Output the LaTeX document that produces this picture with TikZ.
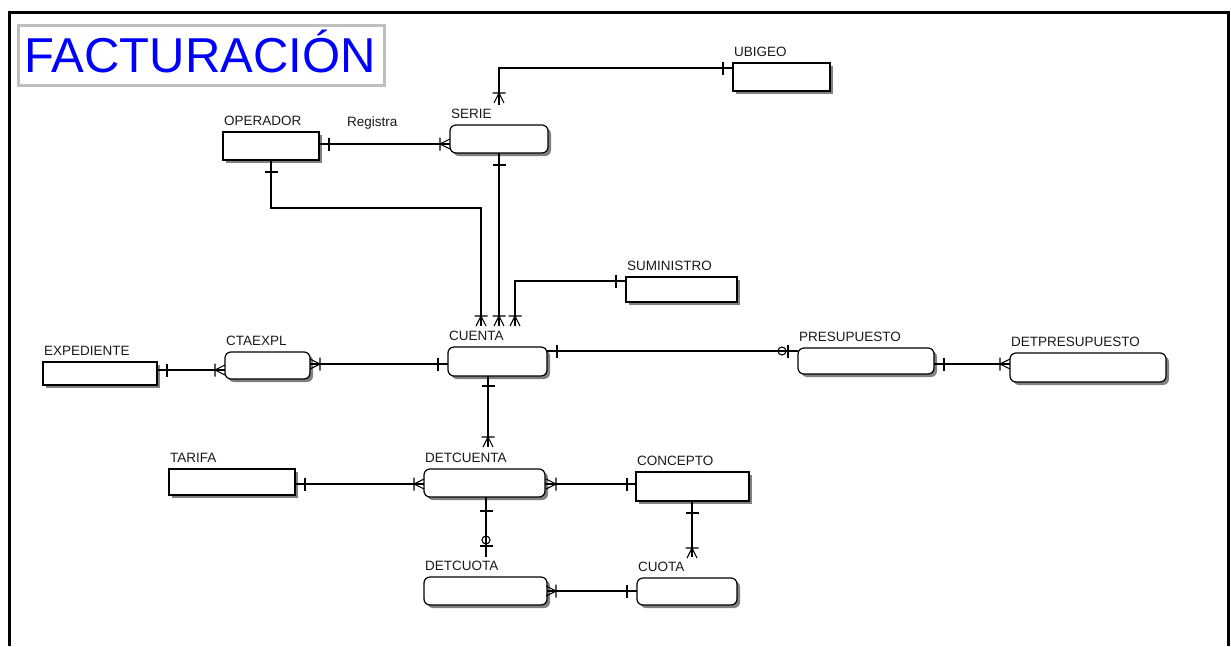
\documentclass[tikz,border=0pt]{standalone}
\usepackage{fontspec}
\setmainfont{Liberation Sans}
\usetikzlibrary{shadows}
\begin{document}
\begin{tikzpicture}[x=1pt,y=-1pt,
  ent/.style={draw=black, line width=1.2pt, fill=white, inner sep=0pt, outer sep=0pt,
    anchor=north west,
    drop shadow={shadow xshift=3pt, shadow yshift=-3pt, fill=black!50, opacity=1}},
  sz/.style 2 args={minimum width=#1pt, minimum height=#2pt},
  entbox/.style={ent, rectangle},
  entround/.style={ent, rounded corners=6pt},
  lbl/.style={font=\fontsize{13.5}{15}\selectfont, text=black!90, inner sep=0pt, anchor=base west},
  rel/.style={draw=black, line width=1.1pt},
  mtick/.pic={\draw[rel] (0,-6.5) -- (0,6.5);},
  mcrow/.pic={\draw[rel] (0,-6.5) -- (0,6.5) (10,-5) -- (0,0) -- (10,5);},
  mzero/.pic={\draw[rel] (0,-6.5) -- (0,6.5); \draw[rel] (-6,0) circle[radius=4pt];},
]
\useasboundingbox (0,0) rectangle (1231,646);

% outer frame
\draw[line width=3pt] (9.5,646) -- (9.5,12.5) -- (1228.5,12.5) -- (1228.5,646);

% title
\node[draw=black!25, line width=3pt, fill=white, inner sep=0pt, minimum width=366pt, minimum height=60pt] (titlebox) at (201,55) {};
\node[text=blue, font=\fontsize{49}{50}\selectfont, inner sep=0pt, anchor=base] (title) at (200,72) {FACTURACIÓN};

% entities
\node[entbox, sz={96}{28}]    (operador)       at (223,132) {};
\node[entround, sz={98}{28}]  (serie)          at (450,125) {};
\node[entbox, sz={97}{28}]    (ubigeo)         at (733,63)  {};
\node[entbox, sz={111}{25}]   (suministro)     at (626,277) {};
\node[entround, sz={99}{29}]  (cuenta)         at (448,347) {};
\node[entbox, sz={114}{23}]   (expediente)     at (43,362)  {};
\node[entround, sz={85}{27}]  (ctaexpl)        at (225,352) {};
\node[entround, sz={136}{26}] (presupuesto)    at (798,348) {};
\node[entround, sz={156}{29}] (detpresupuesto) at (1010,353) {};
\node[entbox, sz={126}{26}]   (tarifa)         at (169,469) {};
\node[entround, sz={121}{28}] (detcuenta)      at (424,469) {};
\node[entbox, sz={113}{29}]   (concepto)       at (636,472) {};
\node[entround, sz={123}{28}] (detcuota)       at (424,577) {};
\node[entround, sz={100}{27}] (cuota)          at (637,578) {};

% entity names
\foreach \e/\t in {operador/OPERADOR, serie/SERIE, ubigeo/UBIGEO, suministro/SUMINISTRO,
  cuenta/CUENTA, expediente/EXPEDIENTE, ctaexpl/CTAEXPL, presupuesto/PRESUPUESTO,
  detpresupuesto/DETPRESUPUESTO, tarifa/TARIFA, detcuenta/DETCUENTA, concepto/CONCEPTO,
  detcuota/DETCUOTA, cuota/CUOTA}
  \node[lbl] (\e-name) at ([xshift=1pt, yshift=7pt]\e.north west) {\t};

\node[lbl] (registra) at (347,126) {Registra};

% free ends of relationships that stop above an entity name
\coordinate (serie-in)    at (499,105);
\coordinate (cuenta-op)   at (481,326);
\coordinate (cuenta-se)   at (499,326);
\coordinate (cuenta-su)   at (515,326);
\coordinate (detcuenta-in) at (488,447);
\coordinate (detcuota-in) at (486,557);
\coordinate (cuota-in)    at (692,557);

% OPERADOR -- SERIE (Registra)
\draw[rel] (operador.east |- 0,144) -- (serie.west |- 0,144);
\pic at (329,144) {mtick};
\pic at (440,144) {mcrow};

% UBIGEO -- SERIE
\draw[rel] (ubigeo.west |- 0,68) -| (serie-in);
\pic at (723,68) {mtick};
\pic[rotate=-90] at (499,93) {mcrow};

% SERIE -- CUENTA
\draw[rel] (serie.south) -- (cuenta-se);
\pic[rotate=90] at (499,165) {mtick};
\pic[rotate=-90] at (499,316) {mcrow};

% OPERADOR -- CUENTA
\draw[rel] (operador.south) -- ++(0,48) -| (cuenta-op);
\pic[rotate=90] at (271,172) {mtick};
\pic[rotate=-90] at (481,316) {mcrow};

% SUMINISTRO -- CUENTA
\draw[rel] (suministro.west |- 0,281) -| (cuenta-su);
\pic at (616,281) {mtick};
\pic[rotate=-90] at (515,316) {mcrow};

% CUENTA -- PRESUPUESTO
\draw[rel] (cuenta.east |- 0,351) -- (presupuesto.west |- 0,351);
\pic at (557,351) {mtick};
\pic at (788,351) {mzero};

% PRESUPUESTO -- DETPRESUPUESTO
\draw[rel] (presupuesto.east |- 0,364) -- (detpresupuesto.west |- 0,364);
\pic at (944,364) {mtick};
\pic at (1000,364) {mcrow};

% EXPEDIENTE -- CTAEXPL
\draw[rel] (expediente.east |- 0,370) -- (ctaexpl.west |- 0,370);
\pic at (167,370) {mtick};
\pic at (215,370) {mcrow};

% CTAEXPL -- CUENTA
\draw[rel] (ctaexpl.east |- 0,364) -- (cuenta.west |- 0,364);
\pic[rotate=180] at (320,364) {mcrow};
\pic at (438,364) {mtick};

% CUENTA -- DETCUENTA
\draw[rel] (cuenta.south -| 488,0) -- (detcuenta-in);
\pic[rotate=90] at (488,386) {mtick};
\pic[rotate=-90] at (488,437) {mcrow};

% TARIFA -- DETCUENTA
\draw[rel] (tarifa.east |- 0,484) -- (detcuenta.west |- 0,484);
\pic at (305,484) {mtick};
\pic at (414,484) {mcrow};

% DETCUENTA -- CONCEPTO
\draw[rel] (detcuenta.east |- 0,484) -- (concepto.west |- 0,484);
\pic[rotate=180] at (556,484) {mcrow};
\pic at (627,484) {mtick};

% DETCUENTA -- DETCUOTA
\draw[rel] (detcuenta.south -| 486,0) -- (detcuota-in);
\pic[rotate=90] at (486,511) {mtick};
\pic[rotate=-90] at (486,546) {mzero};

% DETCUOTA -- CUOTA
\draw[rel] (detcuota.east |- 0,591) -- (cuota.west |- 0,591);
\pic[rotate=180] at (556,591) {mcrow};
\pic at (627,591) {mtick};

% CONCEPTO -- CUOTA
\draw[rel] (concepto.south -| 692,0) -- (cuota-in);
\pic[rotate=90] at (692,513) {mtick};
\pic[rotate=-90] at (692,548) {mcrow};
\end{tikzpicture}
\end{document}
